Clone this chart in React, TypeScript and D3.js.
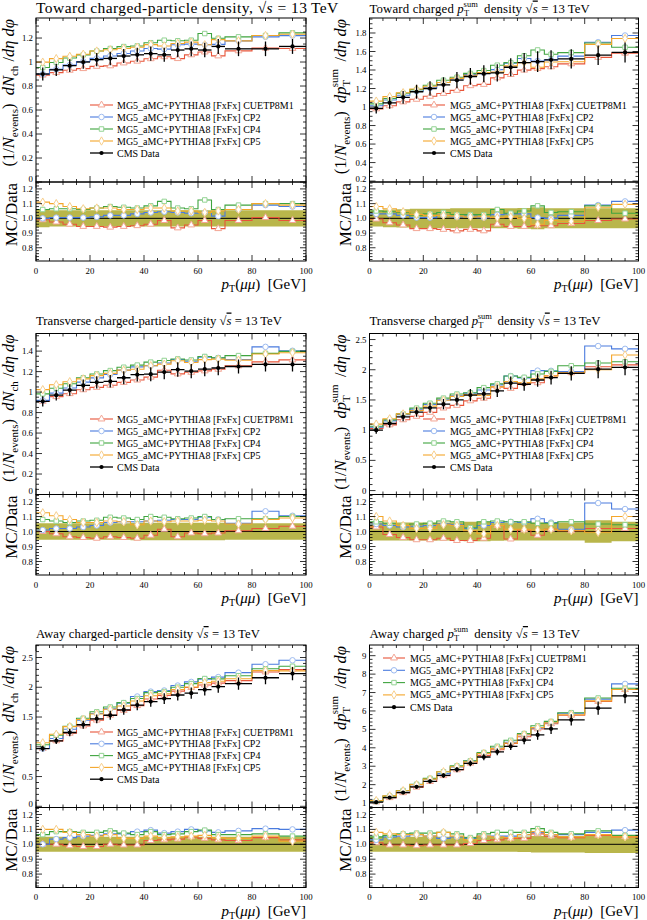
import React from "react";
import * as d3 from "d3";

// ---------- shared data ----------
const EDGES = [0, 5, 10, 15, 20, 25, 30, 35, 40, 45, 50, 55, 60, 65, 70, 80, 90, 100];
const TUNE_LABELS = [
  "MG5_aMC+PYTHIA8 [FxFx] CUETP8M1",
  "MG5_aMC+PYTHIA8 [FxFx] CP2",
  "MG5_aMC+PYTHIA8 [FxFx] CP4",
  "MG5_aMC+PYTHIA8 [FxFx] CP5",
];
const DATA_LABEL = "CMS Data";
const LINE_COLORS = ["#E8553A", "#4A7BDE", "#3FA43F", "#F4A62A"];
const MARKER_COLORS = ["#F3A594", "#9DBBF0", "#93D393", "#F8CF8C"];
const BAND_COLOR = "#B9B64B";
const RATIO_DOMAIN = [0.71, 1.247];
const RATIO_TICKS = [0.8, 0.9, 1.0, 1.1, 1.2];

// ---------- Toward Nch ----------
const towardNchData = [0.9, 0.935, 0.97, 1.0, 1.02, 1.03, 1.05, 1.06, 1.07, 1.06, 1.1, 1.11, 1.1, 1.13, 1.11, 1.11, 1.13];
const towardNchErr = [0.06, 0.055, 0.055, 0.055, 0.055, 0.055, 0.055, 0.055, 0.055, 0.055, 0.055, 0.055, 0.055, 0.055, 0.055, 0.055, 0.055];
const towardNchCUETP8M1 = [0.99, 0.975, 0.96, 0.945, 0.945, 0.94, 0.945, 0.95, 0.96, 0.985, 0.935, 0.955, 0.985, 0.93, 0.985, 1.005, 0.985];
const towardNchCP2 = [1.0, 1.005, 1.005, 1.005, 1.01, 1.02, 1.02, 1.03, 1.04, 1.045, 1.04, 1.035, 1.04, 1.015, 1.06, 1.09, 1.08];
const towardNchCP4 = [1.06, 1.065, 1.065, 1.06, 1.07, 1.08, 1.075, 1.07, 1.085, 1.115, 1.07, 1.065, 1.125, 1.06, 1.09, 1.1, 1.1];
const towardNchCP5 = [1.11, 1.1, 1.08, 1.065, 1.07, 1.07, 1.06, 1.06, 1.07, 1.07, 1.05, 1.05, 1.04, 1.05, 1.06, 1.1, 1.09];

// ---------- Toward pTsum ----------
const towardPtData = [0.985, 1.045, 1.105, 1.165, 1.2, 1.24, 1.29, 1.33, 1.36, 1.37, 1.43, 1.48, 1.49, 1.51, 1.52, 1.56, 1.59];
const towardPtErr = [0.055, 0.06, 0.062, 0.065, 0.065, 0.065, 0.068, 0.068, 0.068, 0.068, 0.068, 0.07, 0.075, 0.068, 0.068, 0.068, 0.068];
const towardPtCUETP8M1 = [0.995, 0.97, 0.955, 0.93, 0.93, 0.925, 0.915, 0.925, 0.915, 0.96, 0.945, 0.945, 0.95, 0.95, 0.965, 0.985, 0.995];
const towardPtCP2 = [1.03, 1.03, 1.02, 1.005, 1.005, 1.02, 1.01, 1.015, 1.005, 1.025, 1.03, 1.03, 1.005, 1.0, 1.02, 1.09, 1.115];
const towardPtCP4 = [1.05, 1.045, 1.04, 1.02, 1.03, 1.04, 1.025, 1.025, 1.025, 1.06, 1.035, 1.05, 1.085, 1.04, 1.045, 1.085, 1.035];
const towardPtCP5 = [1.08, 1.065, 1.045, 1.025, 1.02, 1.02, 1.015, 1.01, 1.01, 1.005, 1.01, 1.0, 0.96, 0.985, 0.98, 1.075, 1.095];

// ---------- Transverse Nch ----------
const transNchData = [0.91, 0.97, 1.02, 1.065, 1.095, 1.105, 1.14, 1.17, 1.175, 1.195, 1.22, 1.205, 1.225, 1.235, 1.25, 1.27, 1.27];
const transNchErr = [0.055, 0.055, 0.055, 0.055, 0.055, 0.055, 0.055, 0.058, 0.058, 0.058, 0.058, 0.058, 0.058, 0.058, 0.055, 0.055, 0.055];
const transNchCUETP8M1 = [1.0, 0.985, 0.965, 0.96, 0.955, 0.965, 0.96, 0.955, 0.975, 1.015, 0.965, 0.99, 0.985, 0.99, 1.005, 1.02, 1.035];
const transNchCP2 = [1.01, 1.02, 1.02, 1.03, 1.04, 1.06, 1.065, 1.065, 1.07, 1.075, 1.08, 1.08, 1.095, 1.08, 1.055, 1.135, 1.105];
const transNchCP4 = [1.08, 1.07, 1.06, 1.07, 1.075, 1.095, 1.09, 1.08, 1.1, 1.095, 1.085, 1.09, 1.1, 1.08, 1.085, 1.085, 1.1];
const transNchCP5 = [1.125, 1.105, 1.08, 1.06, 1.06, 1.07, 1.065, 1.045, 1.07, 1.065, 1.07, 1.07, 1.075, 1.07, 1.05, 1.08, 1.09];

// ---------- Transverse pTsum ----------
const transPtData = [1.0, 1.11, 1.22, 1.3, 1.37, 1.43, 1.5, 1.58, 1.6, 1.65, 1.78, 1.76, 1.83, 1.87, 1.94, 2.01, 2.04];
const transPtErr = [0.06, 0.06, 0.06, 0.06, 0.06, 0.06, 0.062, 0.065, 0.065, 0.062, 0.06, 0.06, 0.06, 0.06, 0.06, 0.075, 0.065];
const transPtCUETP8M1 = [1.03, 0.98, 0.96, 0.945, 0.945, 0.955, 0.94, 0.94, 0.955, 1.04, 0.95, 1.01, 0.975, 1.015, 1.005, 1.02, 1.02];
const transPtCP2 = [1.05, 1.04, 1.03, 1.035, 1.04, 1.05, 1.045, 1.02, 1.04, 1.06, 1.065, 1.06, 1.085, 1.06, 1.015, 1.19, 1.15];
const transPtCP4 = [1.065, 1.055, 1.04, 1.05, 1.055, 1.07, 1.065, 1.025, 1.065, 1.07, 1.065, 1.065, 1.055, 1.055, 1.065, 1.05, 1.045];
const transPtCP5 = [1.1, 1.07, 1.04, 1.02, 1.02, 1.045, 1.04, 1.005, 0.985, 1.04, 1.015, 1.015, 1.01, 1.015, 1.005, 0.995, 1.1];

// ---------- Away Nch ----------
const awayNchData = [0.97, 1.1, 1.24, 1.37, 1.47, 1.53, 1.62, 1.7, 1.76, 1.81, 1.87, 1.9, 1.96, 2.01, 2.06, 2.16, 2.23];
const awayNchErr = [0.05, 0.05, 0.05, 0.05, 0.05, 0.05, 0.05, 0.05, 0.05, 0.05, 0.05, 0.05, 0.05, 0.05, 0.05, 0.05, 0.05];
const awayNchCUETP8M1 = [1.0, 1.0, 0.99, 0.985, 0.985, 1.0, 0.995, 0.995, 1.025, 1.03, 1.035, 1.05, 1.04, 1.03, 1.025, 1.045, 1.03];
const awayNchCP2 = [1.0, 1.035, 1.045, 1.055, 1.06, 1.07, 1.07, 1.085, 1.095, 1.075, 1.085, 1.1, 1.09, 1.08, 1.09, 1.105, 1.1];
const awayNchCP4 = [1.065, 1.085, 1.085, 1.08, 1.08, 1.09, 1.075, 1.065, 1.085, 1.065, 1.07, 1.085, 1.095, 1.065, 1.065, 1.07, 1.055];
const awayNchCP5 = [1.1, 1.1, 1.08, 1.065, 1.055, 1.065, 1.04, 1.04, 1.055, 1.045, 1.05, 1.055, 1.06, 1.045, 1.04, 1.055, 1.02];

// ---------- Away pTsum ----------
const awayPtData = [1.05, 1.3, 1.57, 1.88, 2.18, 2.5, 2.82, 3.15, 3.5, 3.78, 4.08, 4.42, 4.7, 5.03, 5.52, 6.15, 6.82];
const awayPtErr = [0.05, 0.05, 0.05, 0.05, 0.05, 0.05, 0.05, 0.05, 0.05, 0.05, 0.05, 0.052, 0.055, 0.055, 0.055, 0.058, 0.058];
const awayPtCUETP8M1 = [1.01, 0.995, 0.995, 0.99, 0.995, 0.995, 0.995, 1.005, 1.025, 1.03, 1.04, 1.04, 1.07, 1.055, 1.045, 1.06, 1.05];
const awayPtCP2 = [1.03, 1.05, 1.055, 1.065, 1.055, 1.04, 1.05, 1.04, 1.055, 1.055, 1.055, 1.065, 1.08, 1.065, 1.065, 1.08, 1.095];
const awayPtCP4 = [1.05, 1.06, 1.07, 1.075, 1.075, 1.08, 1.07, 1.045, 1.07, 1.08, 1.08, 1.08, 1.105, 1.08, 1.07, 1.09, 1.06];
const awayPtCP5 = [1.08, 1.07, 1.065, 1.065, 1.055, 1.08, 1.055, 1.03, 1.055, 1.05, 1.045, 1.065, 1.085, 1.065, 1.05, 1.065, 1.05];

// ---------- panel configuration ----------
const FONT = "'Liberation Serif', 'DejaVu Serif', serif";
const COLS = [
  { x0: 36, x1: 306, yLabX: 14, rLabX: 17 },
  { x0: 369.5, x1: 638.5, yLabX: 346, rLabX: 351 },
];
const ROWS = [
  { top: 18, mainH: 164, ratioH: 79, titleY: 12.5 },
  { top: 333.5, mainH: 161, ratioH: 80.5, titleY: 324.5 },
  { top: 645, mainH: 162.5, ratioH: 80, titleY: 638 },
];

const PANELS = [
  {
    col: 0, row: 0, region: "Toward", kind: "nch", comma: true, titleSize: 15.5, titleSpacing: 0.45,
    yDomain: [0, 1.367], yMajor: [0, 0.2, 0.4, 0.6, 0.8, 1, 1.2], yMinor: 0.05,
    data: towardNchData, err: towardNchErr,
    ratios: [towardNchCUETP8M1, towardNchCP2, towardNchCP4, towardNchCP5],
    legend: { lx: 90, lx2: 113, tx: 117, y0: 105, dy: 12 },
  },
  {
    col: 1, row: 0, region: "Toward", kind: "pt", comma: false, titleSize: 12.8, titleSpacing: 0.15,
    yDomain: [0.19, 1.962], yMajor: [0.2, 0.4, 0.6, 0.8, 1, 1.2, 1.4, 1.6, 1.8], yMinor: 0.05,
    data: towardPtData, err: towardPtErr,
    ratios: [towardPtCUETP8M1, towardPtCP2, towardPtCP4, towardPtCP5],
    legend: { lx: 423, lx2: 445, tx: 450, y0: 105, dy: 12 },
  },
  {
    col: 0, row: 1, region: "Transverse", kind: "nch", comma: false, titleSize: 12.7, titleSpacing: 0,
    yDomain: [0, 1.572], yMajor: [0, 0.2, 0.4, 0.6, 0.8, 1, 1.2, 1.4], yMinor: 0.05,
    data: transNchData, err: transNchErr,
    ratios: [transNchCUETP8M1, transNchCP2, transNchCP4, transNchCP5],
    legend: { lx: 90, lx2: 113, tx: 117, y0: 419, dy: 12 },
  },
  {
    col: 1, row: 1, region: "Transverse", kind: "pt", comma: false, titleSize: 12.8, titleSpacing: 0,
    yDomain: [-0.065, 2.6], yMajor: [0, 0.5, 1, 1.5, 2, 2.5], yMinor: 0.1,
    data: transPtData, err: transPtErr,
    ratios: [transPtCUETP8M1, transPtCP2, transPtCP4, transPtCP5],
    legend: { lx: 423, lx2: 445, tx: 450, y0: 419, dy: 12 },
  },
  {
    col: 0, row: 2, region: "Away", kind: "nch", comma: false, titleSize: 12.7, titleSpacing: 0.1,
    yDomain: [-0.02, 2.71], yMajor: [0, 0.5, 1, 1.5, 2, 2.5], yMinor: 0.1,
    data: awayNchData, err: awayNchErr,
    ratios: [awayNchCUETP8M1, awayNchCP2, awayNchCP4, awayNchCP5],
    legend: { lx: 90, lx2: 113, tx: 117, y0: 732, dy: 11.8 },
  },
  {
    col: 1, row: 2, region: "Away", kind: "pt", comma: false, titleSize: 12.8, titleSpacing: 0.15,
    yDomain: [0.76, 9.58], yMajor: [1, 2, 3, 4, 5, 6, 7, 8, 9], yMinor: 0.2,
    data: awayPtData, err: awayPtErr,
    ratios: [awayPtCUETP8M1, awayPtCP2, awayPtCP4, awayPtCP5],
    legend: { lx: 383, lx2: 405, tx: 410, y0: 658, dy: 12.3 },
  },
];

const SYMBOLS = [d3.symbolTriangle, d3.symbolCircle, d3.symbolSquare, d3.symbolDiamond];
const SYM_SIZES = [20, 24, 20, 20];

function symPath(i: number) {
  return d3.symbol().type(SYMBOLS[i]).size(SYM_SIZES[i])() as string;
}

function rangeTicks(dom: number[], step: number) {
  const out: number[] = [];
  const start = Math.ceil(dom[0] / step - 1e-9);
  const end = Math.floor(dom[1] / step + 1e-9);
  for (let k = start; k <= end; k++) out.push(+(k * step).toFixed(4));
  return out;
}

function PtSum({ size }: { size: number }) {
  const s = size * 0.66;
  return (
    <>
      <tspan fontStyle="italic">p</tspan>
      <tspan fontSize={s} dy={size * 0.26}>T</tspan>
      <tspan fontSize={s} dx={-s * 0.6} dy={-size * 0.72}>sum</tspan>
      <tspan dy={size * 0.46}>{"\u2009"}</tspan>
    </>
  );
}

function Title({ p, x, y }: any) {
  const size = p.titleSize;
  return (
    <text x={x} y={y} fontSize={size} fontFamily={FONT} fill="#000" letterSpacing={p.titleSpacing}>
      {p.kind === "nch" ? (
        <tspan>{`${p.region} charged-particle density${p.comma ? "," : ""} `}</tspan>
      ) : (
        <>
          <tspan>{`${p.region} charged `}</tspan>
          <PtSum size={size} />
          <tspan>{" density "}</tspan>
        </>
      )}
      <tspan>{"\u221A"}</tspan>
      <tspan fontStyle="italic" style={{ textDecoration: "overline" }}>s</tspan>
      <tspan>{" = 13\u2009TeV"}</tspan>
    </text>
  );
}

function YLabel({ p, x, y }: any) {
  const fs = 16.5;
  const sub = 11;
  return (
    <text transform={`translate(${x},${y}) rotate(-90)`} textAnchor="end" fontSize={fs} fontFamily={FONT}>
      <tspan>(1/</tspan>
      <tspan fontStyle="italic">N</tspan>
      <tspan fontSize={sub} dy={3.5}>events</tspan>
      <tspan dy={-3.5}>{")\u2002"}</tspan>
      {p.kind === "nch" ? (
        <>
          <tspan fontStyle="italic">dN</tspan>
          <tspan fontSize={sub} dy={3.5}>ch</tspan>
          <tspan dy={-3.5}>{" /"}</tspan>
        </>
      ) : (
        <>
          <tspan fontStyle="italic">{"d"}</tspan>
          <PtSum size={fs} />
          <tspan>{" /"}</tspan>
        </>
      )}
      <tspan fontStyle="italic">{"d\u03B7 d\u03C6"}</tspan>
    </text>
  );
}

function Panel({ p, idx }: any) {
  const c = COLS[p.col];
  const r = ROWS[p.row];
  const { x0, x1 } = c;
  const top = r.top;
  const mainBot = top + r.mainH;
  const ratBot = mainBot + r.ratioH;
  const x = d3.scaleLinear().domain([0, 100]).range([x0, x1]);
  const y = d3.scaleLinear().domain(p.yDomain).range([mainBot, top]);
  const yr = d3.scaleLinear().domain(RATIO_DOMAIN).range([ratBot, mainBot]);
  const n = EDGES.length - 1;
  const centers = d3.range(n).map((i) => (EDGES[i] + EDGES[i + 1]) / 2);
  const mc = p.ratios.map((rv: number[]) => rv.map((v, i) => v * p.data[i]));

  const step = (vals: number[], ys: any) =>
    d3
      .line<[number, number]>()
      .x((d) => x(d[0]))
      .y((d) => ys(d[1]))
      .curve(d3.curveStepAfter)([
      ...vals.map((v, i) => [EDGES[i], v] as [number, number]),
      [EDGES[n], vals[n - 1]] as [number, number],
    ]) as string;

  const band = d3
    .area<[number, number, number]>()
    .x((d) => x(d[0]))
    .y0((d) => yr(1 - d[1]))
    .y1((d) => yr(1 + d[2]))
    .curve(d3.curveStepAfter)([
    ...p.err.map((e: number, i: number) => [EDGES[i], e, e] as [number, number, number]),
    [EDGES[n], p.err[n - 1], p.err[n - 1]] as [number, number, number],
  ]) as string;

  const xMajor = d3.range(0, 101, 20);
  const xMinor = d3.range(0, 101, 5).filter((v) => v % 20 !== 0);
  const yMinorVals = rangeTicks(p.yDomain, p.yMinor).filter(
    (v) => !p.yMajor.some((m: number) => Math.abs(m - v) < 1e-6)
  );
  const rMinorVals = rangeTicks(RATIO_DOMAIN, 0.02).filter(
    (v) => !RATIO_TICKS.some((m) => Math.abs(m - v) < 1e-6)
  );
  const clipMain = `clipMain${idx}`;
  const clipRat = `clipRat${idx}`;
  const tickFs = 8.8;
  const fmt = (v: number) => String(+v.toFixed(2));

  const xTicks = (yb: number, yt: number) => (
    <g stroke="#000" strokeWidth={0.8}>
      {xMajor.map((v) => (
        <line key={"M" + v} x1={x(v)} x2={x(v)} y1={yb} y2={yb - 6} />
      ))}
      {xMinor.map((v) => (
        <line key={"m" + v} x1={x(v)} x2={x(v)} y1={yb} y2={yb - 3} />
      ))}
      {xMajor.map((v) => (
        <line key={"Mt" + v} x1={x(v)} x2={x(v)} y1={yt} y2={yt + 6} />
      ))}
      {xMinor.map((v) => (
        <line key={"mt" + v} x1={x(v)} x2={x(v)} y1={yt} y2={yt + 3} />
      ))}
    </g>
  );

  const yTicks = (scale: any, major: number[], minor: number[]) => (
    <g stroke="#000" strokeWidth={0.8}>
      {major.map((v) => (
        <g key={"M" + v}>
          <line x1={x0} x2={x0 + 6} y1={scale(v)} y2={scale(v)} />
          <line x1={x1} x2={x1 - 6} y1={scale(v)} y2={scale(v)} />
        </g>
      ))}
      {minor.map((v) => (
        <g key={"m" + v}>
          <line x1={x0} x2={x0 + 3} y1={scale(v)} y2={scale(v)} />
          <line x1={x1} x2={x1 - 3} y1={scale(v)} y2={scale(v)} />
        </g>
      ))}
    </g>
  );

  const lg = p.legend;
  const labelRowY = ratBot + 12.5;
  const mainLabelY = (v: number) => {
    const yy = y(v) + 3;
    return yy > mainBot ? mainBot - 0.5 : yy;
  };
  const ratioLabelY = (v: number) => {
    const yy = yr(v) + 3;
    return yy < mainBot + 9 ? mainBot + 9 : yy;
  };

  return (
    <g>
      <defs>
        <clipPath id={clipMain}>
          <rect x={x0} y={top} width={x1 - x0} height={r.mainH} />
        </clipPath>
        <clipPath id={clipRat}>
          <rect x={x0} y={mainBot} width={x1 - x0} height={r.ratioH} />
        </clipPath>
      </defs>

      <Title p={p} x={x0} y={r.titleY} />

      {/* main plot */}
      <g clipPath={`url(#${clipMain})`}>
        {mc.map((vals: number[], k: number) => (
          <path key={"l" + k} d={step(vals, y)} fill="none" stroke={LINE_COLORS[k]} strokeWidth={1.1} />
        ))}
        {mc.map((vals: number[], k: number) =>
          vals.map((v, i) => (
            <path
              key={"s" + k + "-" + i}
              d={symPath(k)}
              transform={`translate(${x(centers[i])},${y(v)})`}
              fill="#fff"
              stroke={MARKER_COLORS[k]}
              strokeWidth={1}
            />
          ))
        )}
        {p.data.map((v: number, i: number) => (
          <g key={"d" + i} stroke="#000" strokeWidth={1.3}>
            <line x1={x(EDGES[i])} x2={x(EDGES[i + 1])} y1={y(v)} y2={y(v)} />
            <line x1={x(centers[i])} x2={x(centers[i])} y1={y(v * (1 - p.err[i]))} y2={y(v * (1 + p.err[i]))} />
            <circle cx={x(centers[i])} cy={y(v)} r={2.1} fill="#000" stroke="none" />
          </g>
        ))}
      </g>

      {/* legend */}
      <g fontFamily={FONT} fontSize={10}>
        {TUNE_LABELS.map((t, k) => {
          const ly = lg.y0 + k * lg.dy;
          return (
            <g key={"lg" + k}>
              <line x1={lg.lx} x2={lg.lx2} y1={ly} y2={ly} stroke={LINE_COLORS[k]} strokeWidth={1.1} />
              <path
                d={symPath(k)}
                transform={`translate(${(lg.lx + lg.lx2) / 2},${ly})`}
                fill="#fff"
                stroke={MARKER_COLORS[k]}
                strokeWidth={1}
              />
              <text x={lg.tx} y={ly + 3.5}>{t}</text>
            </g>
          );
        })}
        {(() => {
          const ly = lg.y0 + 4 * lg.dy;
          return (
            <g>
              <line x1={lg.lx} x2={lg.lx2} y1={ly} y2={ly} stroke="#000" strokeWidth={1.3} />
              <circle cx={(lg.lx + lg.lx2) / 2} cy={ly} r={2.1} fill="#000" />
              <text x={lg.tx} y={ly + 3.5}>{DATA_LABEL}</text>
            </g>
          );
        })()}
      </g>

      {/* ratio plot */}
      <g clipPath={`url(#${clipRat})`}>
        <path d={band} fill={BAND_COLOR} stroke="none" />
        <line x1={x0} x2={x1} y1={yr(1)} y2={yr(1)} stroke="#000" strokeWidth={1} />
        {p.ratios.map((vals: number[], k: number) => (
          <path key={"rl" + k} d={step(vals, yr)} fill="none" stroke={LINE_COLORS[k]} strokeWidth={1.1} />
        ))}
        {p.ratios.map((vals: number[], k: number) =>
          vals.map((v, i) => (
            <path
              key={"rs" + k + "-" + i}
              d={symPath(k)}
              transform={`translate(${x(centers[i])},${yr(v)})`}
              fill="#fff"
              stroke={MARKER_COLORS[k]}
              strokeWidth={1}
            />
          ))
        )}
      </g>

      {/* frames and ticks */}
      {xTicks(mainBot, top)}
      {xTicks(ratBot, mainBot)}
      {yTicks(y, p.yMajor, yMinorVals)}
      {yTicks(yr, RATIO_TICKS, rMinorVals)}
      <rect x={x0} y={top} width={x1 - x0} height={r.mainH} fill="none" stroke="#000" strokeWidth={1} />
      <rect x={x0} y={mainBot} width={x1 - x0} height={r.ratioH} fill="none" stroke="#000" strokeWidth={1} />

      {/* tick labels */}
      <g fontFamily={FONT} fontSize={tickFs} textAnchor="end">
        {p.yMajor.map((v: number) => (
          <text key={"yl" + v} x={x0 - 3} y={mainLabelY(v)}>{fmt(v)}</text>
        ))}
        {RATIO_TICKS.map((v) => (
          <text key={"rl" + v} x={x0 - 3} y={ratioLabelY(v)}>{v.toFixed(1)}</text>
        ))}
      </g>
      <g fontFamily={FONT} fontSize={tickFs} textAnchor="middle">
        {xMajor.map((v) => (
          <text key={"xl" + v} x={x(v)} y={labelRowY}>{v}</text>
        ))}
      </g>

      {/* axis labels */}
      <YLabel p={p} x={c.yLabX} y={top + 1} />
      <text
        transform={`translate(${c.rLabX},${mainBot + 1}) rotate(-90)`}
        textAnchor="end"
        fontSize={17}
        fontFamily={FONT}
      >
        MC/Data
      </text>
      <text x={x1} y={ratBot + 28} textAnchor="end" fontSize={15} fontFamily={FONT}>
        <tspan fontStyle="italic">p</tspan>
        <tspan fontSize={10} dy={3}>T</tspan>
        <tspan dy={-3}>(</tspan>
        <tspan fontStyle="italic">{"\u03BC\u03BC"}</tspan>
        <tspan>{")\u2002[GeV]"}</tspan>
      </text>
    </g>
  );
}

export default function App() {
  return (
    <svg
      width={647}
      height={920}
      viewBox="0 0 647 920"
      style={{ position: "absolute", left: 0, top: 0, background: "#fff" }}
    >
      <rect x={0} y={0} width={647} height={920} fill="#fff" />
      {PANELS.map((p, i) => (
        <Panel key={i} p={p} idx={i} />
      ))}
    </svg>
  );
}
